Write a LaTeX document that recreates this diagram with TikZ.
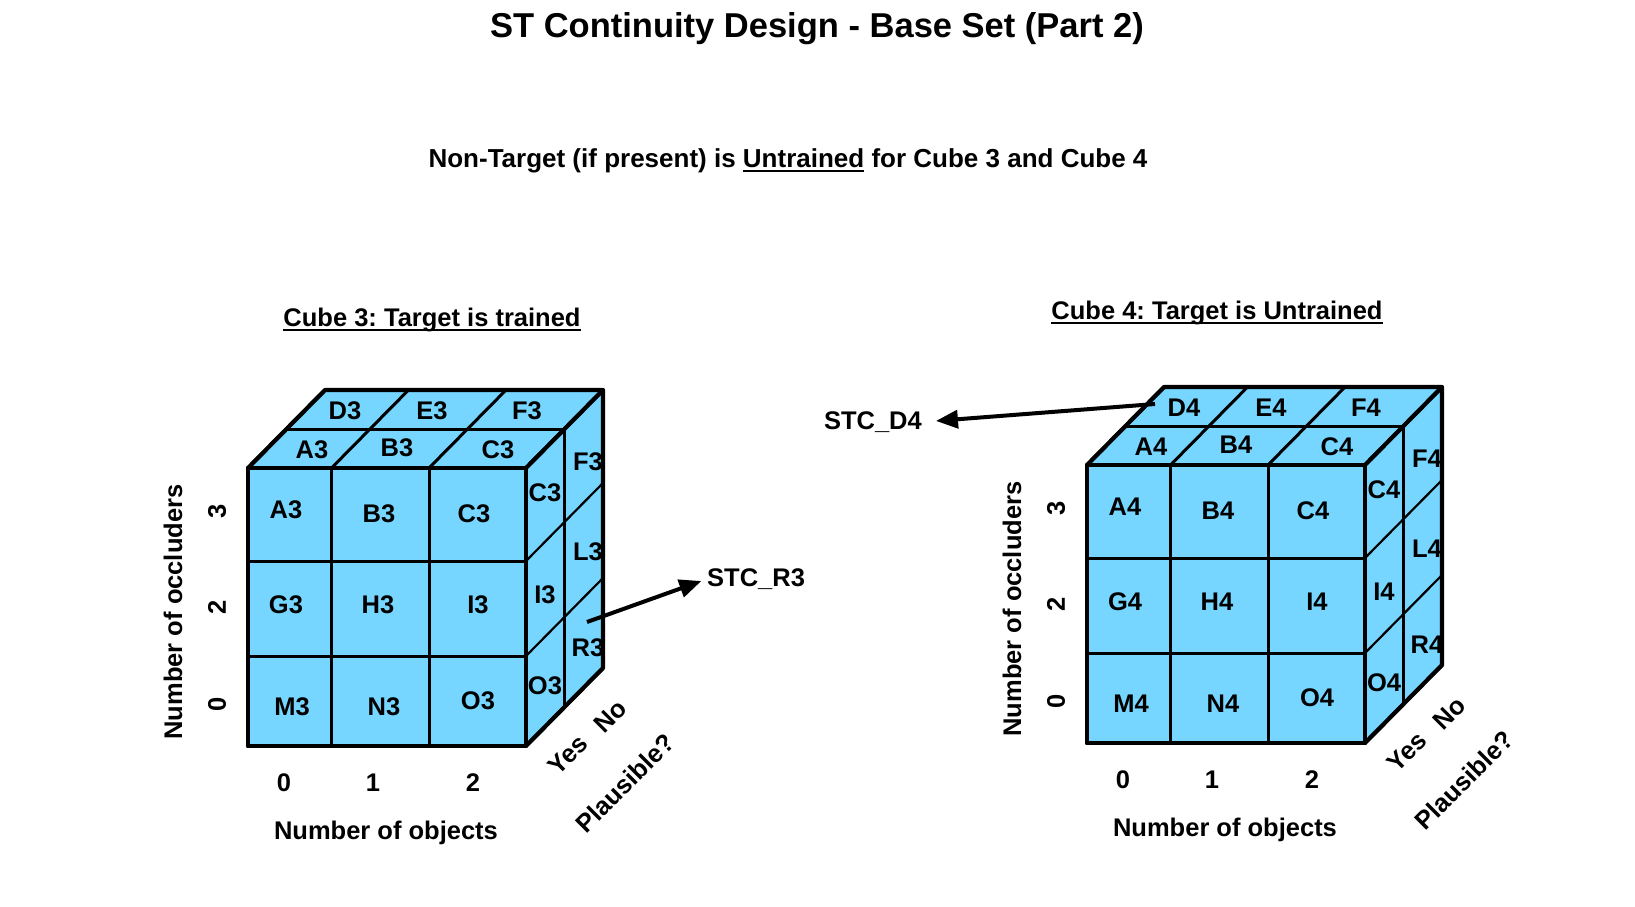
\documentclass[tikz,border=0pt]{standalone}
\usepackage{fontspec}
\setmainfont{Liberation Sans}
\usetikzlibrary{arrows.meta}
\definecolor{sky}{HTML}{76D6FF}
\frenchspacing
\newcommand\ulx[1]{\setbox0\hbox{#1}\rlap{\rule[-4pt]{\wd0}{2pt}}\box0\relax}
\newcommand\fsz[1]{\fontsize{#1}{#1}\selectfont\bfseries}
\tikzset{
  face/.style={fill=sky, draw=black, line width=3.5pt, line join=round},
  gridline/.style={line width=3pt},
  thingrid/.style={line width=2.2pt},
  lab/.style={font=\fsz{25.5}, inner sep=0pt},
  ptr/.style={line width=4pt, -{Triangle[length=22pt,width=18pt]}},
}
\newcommand\drawcube[1]{%
  \path[face] (0,0) -- (278,0) -- (355,-78) -- (77,-78) -- cycle;
  \path[face] (278,0) -- (355,-78) -- (355,200) -- (278,278) -- cycle;
  \draw[gridline] (38.5,-39) -- (316.5,-39);
  \draw[gridline] (83.5,0) -- (160.5,-78);
  \draw[gridline] (181,0) -- (258,-78);
  \draw[gridline] (316.5,-39) -- (316.5,239);
  \draw[thingrid] (278,93) -- (355,15);
  \draw[thingrid] (278,188) -- (355,110);
  \path[face, line width=4pt] (0,0) rectangle (278,278);
  \draw[gridline] (83.5,0) -- (83.5,278);
  \draw[gridline] (181,0) -- (181,278);
  \draw[gridline] (0,93) -- (278,93);
  \draw[gridline] (0,188) -- (278,188);
  \draw[line width=4.2pt, line join=round] (0,0) rectangle (278,278);
  \draw[line width=4.2pt, line join=round] (0,0) -- (77,-78) -- (355,-78) -- (355,200) -- (278,278);
  \draw[line width=4.2pt] (278,0) -- (355,-78);
  \foreach \n/\x/\y in {A/64/-18, B/149/-20, C/250/-18}
    \node[lab] (t#1\n) at (\x,\y) {\n#1};
  \foreach \n/\x/\y in {D/97/-57, E/184/-57, F/279/-57}
    \node[lab] (b#1\n) at (\x,\y) {\n#1};
  \foreach \n/\x/\y in {A/38/42, B/131/46, C/226/46, G/38/137, H/130/137, I/230/137, M/44/239, N/136/239, O/230/233}
    \node[lab] (f#1\n) at (\x,\y) {\n#1};
  \foreach \n/\x/\y in {C/297/25, F/340/-6, I/297/127, L/340/84, O/297/218, R/340/180}
    \node[lab] (r#1\n) at (\x,\y) {\n#1};
  \node[lab, rotate=90] (occ#1) at (-75,144) {Number of occluders};
  \foreach \v/\y in {3/43, 2/139, 0/236}
    \node[lab, rotate=90] (ov#1\v) at (-31,\y) {\v};
  \foreach \v/\x in {0/36, 1/125, 2/225}
    \node[lab] (nv#1\v) at (\x,315) {\v};
  \node[lab] (obj#1) at (138,365) {Number of objects};
  \node[lab, rotate=45] (yes#1) at (320,287) {Yes};
  \node[lab, rotate=45] (no#1) at (362,248) {No};
  \node[lab, rotate=45] (pl#1) at (377,315) {Plausible?};
}
\begin{document}
\begin{tikzpicture}[x=1pt, y=-1pt]
  \useasboundingbox[fill=white] (0,0) rectangle (1635,906);
  \node[font=\fsz{34.5}, inner sep=0pt] (title) at (817,29) {ST Continuity Design - Base Set (Part 2)};
  \node[font=\fsz{26}, inner sep=0pt] (sub) at (788,161) {Non-Target (if present) is \ulx{Untrained} for Cube 3 and Cube 4};
  \node[font=\fsz{25.5}, inner sep=0pt] (cap3) at (432,320) {\ulx{Cube 3: Target is trained}};
  \node[font=\fsz{25.5}, inner sep=0pt] (cap4) at (1217,313) {\ulx{Cube 4: Target is Untrained}};
  \begin{scope}[shift={(248,468)}]
    \drawcube{3}
    \coordinate (srcR3) at (339,154);
  \end{scope}
  \begin{scope}[shift={(1087,465)}]
    \drawcube{4}
    \coordinate (srcD4) at (68,-61);
  \end{scope}
  \node[lab, anchor=west] (stcr3) at (707,579) {STC\_R3};
  \node[lab, anchor=east] (stcd4) at (922,422) {STC\_D4};
  \draw[ptr, shorten >=6pt] (srcR3) -- (stcr3.west);
  \draw[ptr, shorten >=14pt] (srcD4) -- (stcd4.east);
\end{tikzpicture}
\end{document}
